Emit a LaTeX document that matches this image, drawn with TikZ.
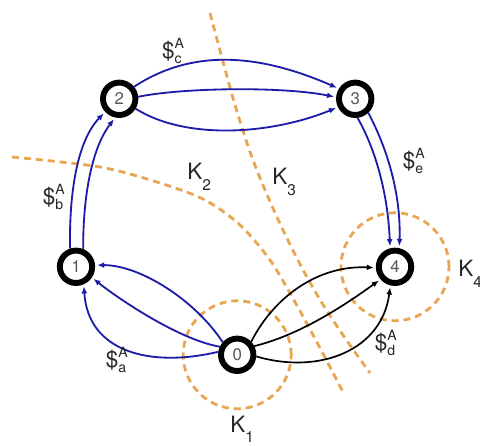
\documentclass[tikz,border=0pt]{standalone}
\usepackage{fontspec}
\setmainfont{TeX Gyre Heros}
\usepackage{tikz}
\usetikzlibrary{arrows.meta, backgrounds}
\definecolor{arcblue}{HTML}{1C1CA8}
\definecolor{cutorange}{HTML}{E8A552}
\definecolor{numgray}{HTML}{5A5A5A}

\newcommand{\cost}[1]{\$\rlap{\raisebox{0.45em}{\fontsize{10}{12}\selectfont A}}\raisebox{-0.22em}{\fontsize{10}{12}\selectfont #1}}
\newcommand{\cutname}[1]{K\raisebox{-0.45em}{\fontsize{11}{12}\selectfont #1}}

\begin{document}
\begin{tikzpicture}[
        font=\fontsize{16}{19}\selectfont,
        >={Latex[length=5pt,width=4.2pt]},
        station/.style={circle, draw=black, line width=4.2pt, fill=white,
                        minimum size=0.81cm, inner sep=0pt, text=numgray,
                        font=\fontsize{12}{14}\selectfont},
        bluearc/.style={draw=arcblue, line width=1.3pt, ->, shorten >=1.5pt},
        blackarc/.style={draw=black, line width=1.2pt, ->, shorten >=1.5pt},
        cutline/.style={draw=cutorange, line width=2pt, dash pattern=on 5pt off 3.5pt},
        tag/.style={text=black!85, inner sep=0pt}
    ]
      \useasboundingbox (0,0) rectangle (12,11.15);

      % --- Stations ---
      \node[station] (n0) at (5.93,2.28) {0};
      \node[station] (n1) at (1.90,4.48) {1};
      \node[station] (n2) at (2.98,8.68) {2};
      \node[station] (n3) at (8.88,8.68) {3};
      \node[station] (n4) at (9.875,4.48) {4};

      % --- Cuts ---
      \begin{scope}[on background layer]
        \draw[cutline] (n0) circle[radius=1.35cm];
        \draw[cutline] (n4) circle[radius=1.35cm];
        \draw[cutline] plot[smooth] coordinates {(0.3,7.225) (2.5,6.975) (4.0,6.575) (5.125,6.15)
          (6.0,5.525) (6.75,4.65) (7.375,3.6) (8.0,2.45) (8.575,1.35)};
        \draw[cutline] plot[smooth] coordinates {(5.25,10.825) (5.55,9.7) (5.875,8.525) (6.25,7.35)
          (6.625,6.4) (7.075,5.4) (7.55,4.45) (8.05,3.575) (8.625,2.7) (9.25,1.825)};
      \end{scope}

      % 0 -> 1
      \draw[bluearc] (n0.139) .. controls (4.875,3.65) and (3.5,4.525) .. (n1.5);
      \draw[bluearc] (n0.155) .. controls (4.5,2.65) and (3.0,3.65) .. (n1.326);
      \draw[bluearc] (n0.171) .. controls (3.75,1.95) and (2.2,2.35) .. (n1.294);

      % 1 -> 2
      \draw[bluearc] (n1.108) .. controls (1.725,6.4) and (1.95,7.65) .. (n2.223);
      \draw[bluearc] (n1.68) .. controls (2.075,6.275) and (2.3,7.45) .. (n2.258);

      % 2 -> 3
      \draw[bluearc] (n2.39) .. controls (4.75,9.9) and (6.375,9.85) .. (n3.148);
      \draw[bluearc] (n2.6) .. controls (4.5,8.95) and (7.0,9.0) .. (n3.175);
      \draw[bluearc] (n2.329) .. controls (4.625,7.65) and (6.75,7.775) .. (n3.206);

      % 3 -> 4
      \draw[bluearc] (n3.277) .. controls (9.4,7.4) and (9.7,6.275) .. (n4.105);
      \draw[bluearc] (n3.313) .. controls (9.7,7.4) and (10.025,6.275) .. (n4.77);

      % 0 -> 4
      \draw[blackarc] (n0.43) .. controls (6.875,3.775) and (8.0,4.525) .. (n4.183);
      \draw[blackarc] (n0.27) .. controls (7.5,2.775) and (8.625,3.525) .. (n4.221);
      \draw[blackarc] (n0.355) .. controls (8.0,1.775) and (9.55,2.4) .. (n4.256);

      % --- Prices ---
      \node[tag] (pc) at (4.3,9.875) {\cost{c}};
      \node[tag] (pb) at (1.325,6.225) {\cost{b}};
      \node[tag] (pa) at (2.9,2.15) {\cost{a}};
      \node[tag] (pe) at (10.325,7.125) {\cost{e}};
      \node[tag] (pd) at (9.625,2.575) {\cost{d}};

      % --- Cut names ---
      \node[tag, anchor=base west] (k1) at (5.75,0.33) {\cutname{1}};
      \node[tag, anchor=base west] (k2) at (4.675,6.65) {\cutname{2}};
      \node[tag, anchor=base west] (k3) at (6.8,6.525) {\cutname{3}};
      \node[tag, anchor=base west] (k4) at (11.45,4.225) {\cutname{4}};
    \end{tikzpicture}
\end{document}
